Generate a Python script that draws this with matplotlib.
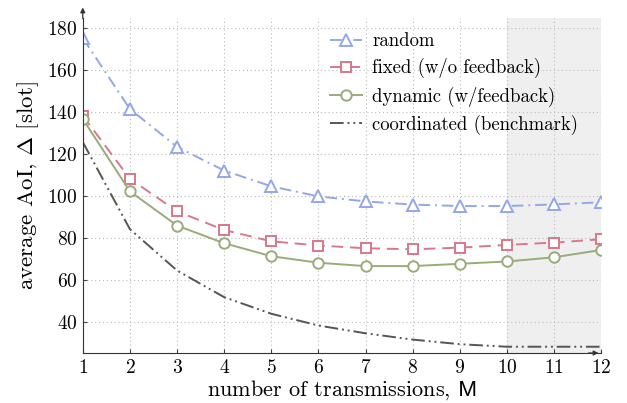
import numpy as np
import matplotlib
matplotlib.use("Agg")
import matplotlib.pyplot as plt
from matplotlib.legend_handler import HandlerLine2D

plt.rcParams['font.family'] = 'serif'
plt.rcParams['font.serif'] = ['cmr10', 'DejaVu Serif']
plt.rcParams['mathtext.fontset'] = 'cm'
plt.rcParams['axes.formatter.use_mathtext'] = True

# --- data ---
M = [1, 2, 3, 4, 5, 6, 7, 8, 9, 10, 11, 12]
random_aoi = [175, 141.2, 123.2, 111.9, 104.4, 99.6, 97.2, 95.7, 95.0, 95.0, 95.8, 96.8]
fixed_aoi = [138, 108, 92.5, 83.6, 78.2, 76.2, 74.9, 74.4, 75.2, 76.5, 77.6, 79.2]
dynamic_aoi = [136.5, 102, 85.7, 77.3, 71.1, 68.0, 66.4, 66.4, 67.5, 68.6, 70.6, 74.1]
coord_aoi = [125.5, 84, 64.3, 51.6, 43.7, 38.1, 34.4, 31.4, 29.2, 28.0, 28.0, 28.0]
labels = ["random", "fixed (w/o feedback)", "dynamic (w/feedback)", "coordinated (benchmark)"]


class EndMarker(HandlerLine2D):
    # line across the handle, marker sitting at its right end
    def get_xdata(self, legend, xdescent, ydescent, width, height, fontsize):
        return [-xdescent, -xdescent + width], [-xdescent + width - 0.1 * fontsize]


fig = plt.figure(figsize=(6.27, 4.03), dpi=100)
ax = fig.add_axes([0.132, 0.124, 0.827, 0.831])

ax.axvspan(10, 12, color='#efefef', zorder=0)

ax.plot(M, random_aoi, color='#94a7e8', linestyle=(0, (6, 2.5, 1, 2.5)), lw=1.4,
        marker='^', ms=8, mfc='white', mew=1.4, label=labels[0])
ax.plot(M, fixed_aoi, color='#d9788a', linestyle=(0, (6, 3.5)), lw=1.4,
        marker='s', ms=7, mfc='white', mew=1.4, label=labels[1])
ax.plot(M, dynamic_aoi, color='#9aab7a', linestyle='-', lw=1.4,
        marker='o', ms=7.5, mfc='white', mew=1.4, label=labels[2])
ax.plot(M, coord_aoi, color='#555555', linestyle=(0, (7, 2, 1, 2, 1, 2)), lw=1.4,
        label=labels[3])

ax.set_xlim(1, 12)
ax.set_ylim(25, 184.5)
ax.set_xticks(M)
ax.set_yticks([40, 60, 80, 100, 120, 140, 160, 180])
ax.tick_params(labelsize=14, direction='in', length=3, color='#444444', pad=4)
ax.grid(True, linestyle=(0, (1, 2.5)), color='#bbbbbb', lw=0.8)

for s in ['top', 'right']:
    ax.spines[s].set_visible(False)
for s in ['left', 'bottom']:
    ax.spines[s].set_color('#333333')

# axis arrows
ax.annotate('', xy=(0, 1.04), xytext=(0, 0.99), xycoords='axes fraction',
            arrowprops=dict(arrowstyle='-|>', color='#333333', lw=0.9, mutation_scale=7))
ax.annotate('', xy=(1.0, 0), xytext=(0.97, 0), xycoords='axes fraction',
            arrowprops=dict(arrowstyle='-|>', color='#333333', lw=0.9, mutation_scale=7))

ax.set_xlabel(r'number of transmissions, $\mathsf{M}$', fontsize=16, labelpad=1)
ax.set_ylabel(r'average AoI, $\Delta$ [slot]', fontsize=16.5, labelpad=4)

ax.legend(loc='upper left', bbox_to_anchor=(0.477, 0.957), frameon=False, fontsize=13.5,
          handlelength=1.7, handletextpad=0.55, labelspacing=0.42, borderpad=0,
          borderaxespad=0, handler_map={plt.Line2D: EndMarker()})

fig.savefig('out.png', dpi=100)
